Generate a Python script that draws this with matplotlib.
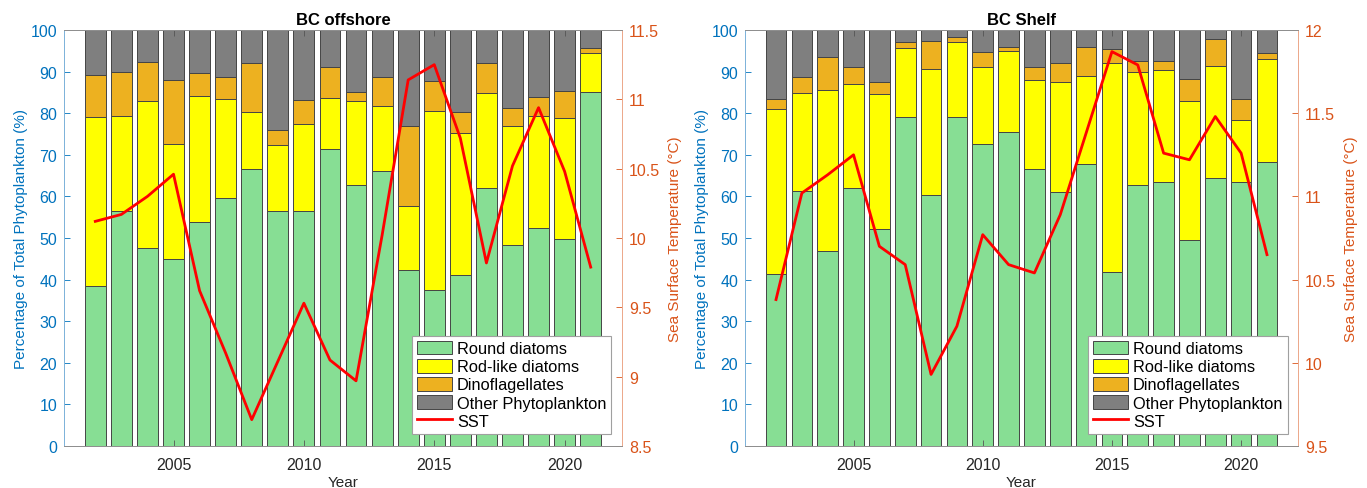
import matplotlib
matplotlib.use("Agg")
import matplotlib.pyplot as plt
import numpy as np

plt.rcParams["font.family"] = ["Liberation Sans", "DejaVu Sans"]

years = list(range(2002, 2022))
groups = ["Round diatoms", "Rod-like diatoms", "Dinoflagellates", "Other Phytoplankton"]

# BC offshore: percentage of total phytoplankton per group
off_round = [38.5, 56.4, 47.7, 44.9, 53.8, 59.7, 66.5, 56.4, 56.5, 71.4,
             62.7, 66.0, 42.3, 37.6, 41.2, 62.1, 48.2, 52.4, 49.8, 85.1]
off_rod = [40.7, 22.9, 35.2, 27.6, 30.3, 23.6, 13.7, 16.0, 20.9, 12.2,
           20.3, 15.7, 15.5, 43.0, 34.0, 22.8, 28.8, 26.9, 29.1, 9.3]
off_dino = [10.0, 10.5, 9.3, 15.5, 5.5, 5.4, 11.8, 3.6, 5.7, 7.6,
            2.0, 7.1, 19.2, 7.2, 5.2, 7.1, 4.3, 4.7, 6.4, 1.3]
off_other = [10.8, 10.2, 7.8, 12.0, 10.4, 11.3, 8.0, 24.0, 16.9, 8.8,
             15.0, 11.2, 23.0, 12.2, 19.6, 8.0, 18.7, 16.0, 14.7, 4.3]
off_sst = [10.12, 10.17, 10.30, 10.46, 9.62, 9.17, 8.69, 9.11, 9.53, 9.12,
           8.97, 10.02, 11.14, 11.25, 10.72, 9.82, 10.52, 10.94, 10.48, 9.79]

# BC Shelf
shelf_round = [41.4, 61.3, 46.8, 62.0, 52.2, 79.0, 60.3, 79.2, 72.6, 75.6,
               66.6, 61.1, 67.8, 41.8, 62.8, 63.4, 49.6, 64.5, 63.4, 68.2]
shelf_rod = [39.6, 23.5, 38.7, 24.9, 32.4, 16.7, 30.4, 17.8, 18.4, 19.3,
             21.3, 26.5, 21.2, 50.2, 27.2, 27.0, 33.4, 26.9, 15.0, 24.8]
shelf_dino = [2.4, 4.0, 7.9, 4.3, 2.8, 1.3, 6.7, 1.2, 3.6, 1.1,
              3.1, 4.4, 6.8, 3.4, 2.6, 2.2, 5.2, 6.4, 5.0, 1.4]
shelf_other = [16.6, 11.2, 6.6, 8.8, 12.6, 3.0, 2.6, 1.8, 5.4, 4.0,
               9.0, 8.0, 4.2, 4.6, 7.4, 7.4, 11.8, 2.2, 16.6, 5.6]
shelf_sst = [10.38, 11.02, 11.13, 11.25, 10.70, 10.59, 9.93, 10.22, 10.77, 10.59,
             10.54, 10.89, 11.38, 11.87, 11.79, 11.26, 11.22, 11.48, 11.26, 10.65]

bar_colors = ["#87de94", "#ffff00", "#edb120", "#7f7f7f"]
left_color = "#0072bd"
right_color = "#d95319"
box_color = "#8f8f8f"

fig = plt.figure(figsize=(13.67, 4.89), dpi=100)


def panel(rect, title, parts, sst, sst_lim, sst_ticks):
    ax = fig.add_axes(rect)
    ax2 = ax.twinx()
    bottom = np.zeros(len(years))
    handles = []
    for vals, col, name in zip(parts, bar_colors, groups):
        h = ax.bar(years, vals, width=0.8, bottom=bottom, color=col,
                   edgecolor="#454545", linewidth=0.7, label=name)
        bottom += np.array(vals)
        handles.append(h)
    line, = ax2.plot(years, sst, color="#ff0000", linewidth=2.0, label="SST")
    handles.append(line)

    ax.set_xlim(2000.8, 2022.2)
    ax.set_ylim(0, 100)
    ax.set_yticks(range(0, 101, 10))
    ax.set_xticks([2005, 2010, 2015, 2020])
    ax2.set_ylim(*sst_lim)
    ax2.set_yticks(sst_ticks)
    ax2.set_yticklabels([f"{t:g}" for t in sst_ticks])

    ax.tick_params(axis="x", direction="in", top=True, length=4, width=0.6,
                   color="#555555", labelsize=11.5, labelcolor="#262626", pad=8)
    ax.tick_params(axis="y", direction="in", length=4, width=0.6,
                   color=left_color, labelsize=11.5, labelcolor=left_color, pad=5)
    ax2.tick_params(axis="y", direction="in", length=4, width=0.6,
                    color=right_color, labelsize=11.5, labelcolor=right_color, pad=5)

    for a in (ax, ax2):
        a.spines["top"].set_color(box_color)
        a.spines["bottom"].set_color(box_color)
        a.spines["left"].set_color("#7fb3da")
        a.spines["right"].set_color("#eca98c")
        for s in a.spines.values():
            s.set_linewidth(0.7)

    ax.set_ylabel("Percentage of Total Phytoplankton (%)", color=left_color,
                  fontsize=11, labelpad=2)
    ax2.set_ylabel("Sea Surface Temperature (°C)", color=right_color,
                   fontsize=11, labelpad=6)
    ax.set_xlabel("Year", fontsize=11, color="#262626", labelpad=2)
    ax.set_title(title, fontsize=12, fontweight="bold", pad=4)

    leg = ax2.legend(handles, groups + ["SST"], loc="lower right",
                     bbox_to_anchor=(0.987, 0.022), fontsize=11.8,
                     frameon=True, fancybox=False, framealpha=1,
                     edgecolor="#a0a0a0", handlelength=2.15, handleheight=0.9,
                     labelspacing=0.16, handletextpad=0.3, borderpad=0.3,
                     borderaxespad=0.2)
    leg.get_frame().set_linewidth(0.8)
    return ax, ax2


panel([64 / 1367, 42 / 489, 558 / 1367, 416 / 489], "BC offshore",
      [off_round, off_rod, off_dino, off_other], off_sst,
      (8.5, 11.5), [8.5, 9, 9.5, 10, 10.5, 11, 11.5])
panel([745 / 1367, 42 / 489, 553 / 1367, 416 / 489], "BC Shelf",
      [shelf_round, shelf_rod, shelf_dino, shelf_other], shelf_sst,
      (9.5, 12), [9.5, 10, 10.5, 11, 11.5, 12])

fig.savefig("out.png", dpi=100)
